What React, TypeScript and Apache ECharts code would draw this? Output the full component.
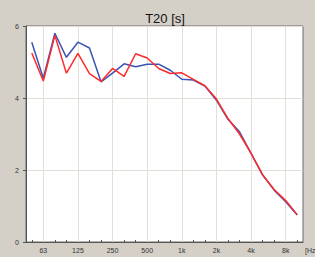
import React, { useEffect, useRef } from "react";
import * as echarts from "echarts";

const bands = ["50", "63", "80", "100", "125", "160", "200", "250", "315", "400", "500", "630", "800", "1k", "1.25k", "1.6k", "2k", "2.5k", "3.15k", "4k", "5k", "6.3k", "8k", "10k"];
const labeledBands = ["63", "125", "250", "500", "1k", "2k", "4k", "8k"];
const blueT20 = [5.55, 4.55, 5.8, 5.13, 5.55, 5.39, 4.45, 4.69, 4.95, 4.87, 4.94, 4.94, 4.77, 4.52, 4.5, 4.33, 3.94, 3.41, 3.06, 2.46, 1.86, 1.44, 1.12, 0.75];
const redT20 = [5.25, 4.47, 5.74, 4.69, 5.24, 4.68, 4.46, 4.82, 4.6, 5.23, 5.11, 4.82, 4.68, 4.7, 4.52, 4.34, 3.97, 3.43, 3.0, 2.46, 1.87, 1.46, 1.15, 0.76];
const yTicks = [0, 2, 4, 6];

export default function App() {
  const ref = useRef<HTMLDivElement>(null);
  useEffect(() => {
    document.body.style.margin = "0";
    const chart = echarts.init(ref.current!, undefined, { renderer: "svg" });
    const font = "Liberation Sans, Arial, sans-serif";
    chart.setOption({
      animation: false,
      backgroundColor: "#d4d0c8",
      title: {
        text: "T20 [s]",
        left: 160,
        textAlign: "center",
        top: 7,
        textStyle: { fontSize: 13, fontWeight: "normal", color: "#111", fontFamily: font },
      },
      grid: {
        left: 26,
        right: 12,
        top: 26,
        bottom: 15,
        show: true,
        backgroundColor: "#ffffff",
        borderColor: "#6a6a6a",
        borderWidth: 1,
      },
      xAxis: {
        type: "category",
        data: bands,
        boundaryGap: true,
        axisLine: { show: true, lineStyle: { color: "#555", width: 1 } },
        axisTick: { show: true, inside: true, length: 2, interval: 0, alignWithLabel: true, lineStyle: { color: "#555" } },
        axisLabel: {
          interval: (i: number, v: string) => labeledBands.includes(v),
          fontSize: 7,
          color: "#333",
          margin: 5,
          fontFamily: font,
        },
        splitLine: { show: false },
      },
      yAxis: {
        type: "value",
        min: yTicks[0],
        max: yTicks[yTicks.length - 1],
        interval: 2,
        axisLine: { show: true, lineStyle: { color: "#555" } },
        axisTick: { show: true, inside: false, length: 3, lineStyle: { color: "#555" } },
        axisLabel: { fontSize: 7, color: "#333", margin: 7, fontFamily: font },
        splitLine: { show: true, lineStyle: { color: "#e2ded8", width: 1 } },
      },
      graphic: [
        {
          type: "text",
          left: 305,
          top: 247,
          style: { text: "[Hz]", fontSize: 7, fill: "#333", fontFamily: font },
        },
      ],
      series: [
        {
          type: "line",
          data: blueT20,
          symbol: "none",
          lineStyle: { color: "#3b54b4", width: 1.5 },
          z: 3,
          markLine: {
            silent: true,
            symbol: "none",
            label: { show: false },
            lineStyle: { color: "#e2ded8", width: 1, type: "solid" },
            data: labeledBands.map((b) => ({ xAxis: b })),
            z: 1,
          },
        },
        {
          type: "line",
          data: redT20,
          symbol: "none",
          lineStyle: { color: "#ff2a2a", width: 1.5 },
          z: 4,
        },
      ],
    });
    return () => chart.dispose();
  }, []);
  return <div ref={ref} style={{ position: "fixed", left: 0, top: 0, width: 315, height: 257 }} />;
}
